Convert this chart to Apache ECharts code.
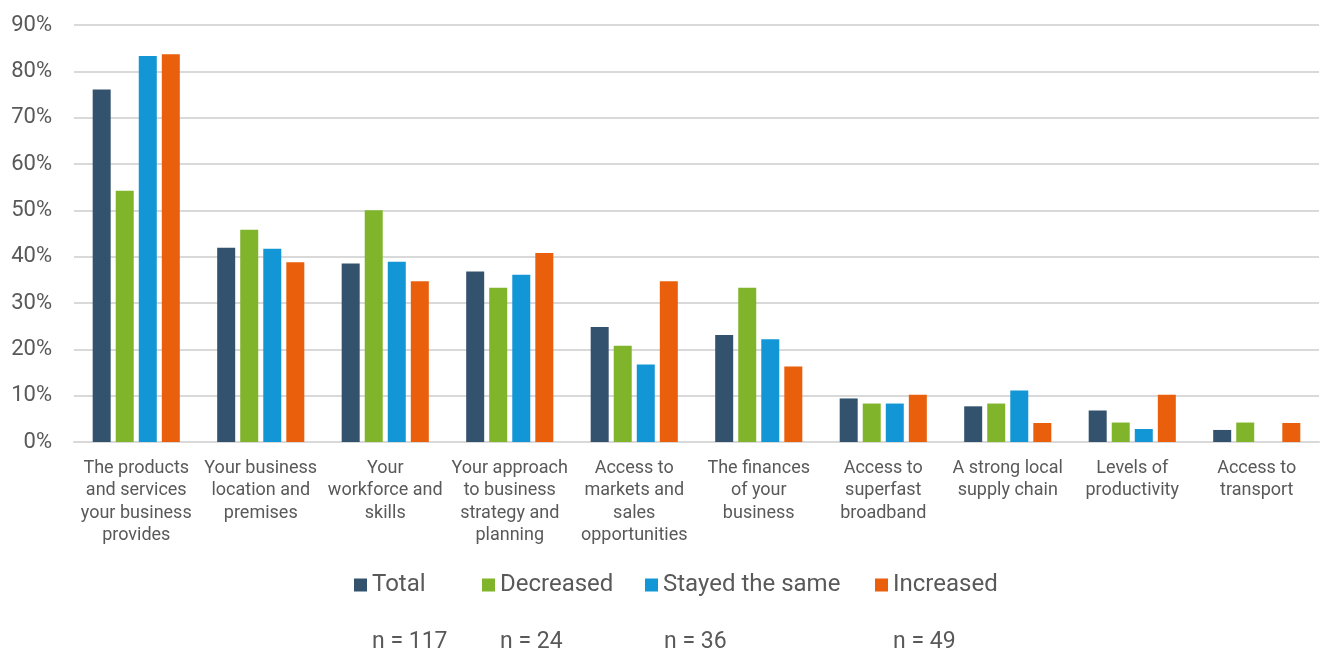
<!DOCTYPE html>
<html>
<head>
<meta charset="utf-8">
<script src="https://cdn.jsdelivr.net/npm/echarts@6/dist/echarts.min.js"></script>
<style>
  html, body { margin: 0; padding: 0; background: #fff; }
  #chart { width: 1324px; height: 653px; }
</style>
</head>
<body>
<div id="chart"></div>
<script>
// Factors named by businesses, share of respondents (%), split by turnover change
const categories = [
  'The products\nand services\nyour business\nprovides',
  'Your business\nlocation and\npremises',
  'Your\nworkforce and\nskills',
  'Your approach\nto business\nstrategy and\nplanning',
  'Access to\nmarkets and\nsales\nopportunities',
  'The finances\nof your\nbusiness',
  'Access to\nsuperfast\nbroadband',
  'A strong local\nsupply chain',
  'Levels of\nproductivity',
  'Access to\ntransport'
];
const total     = [76.1, 41.9, 38.5, 36.8, 24.8, 23.1, 9.4, 7.7, 6.8, 2.6];
const decreased = [54.2, 45.8, 50.0, 33.3, 20.8, 33.3, 8.3, 8.3, 4.2, 4.2];
const stayed    = [83.3, 41.7, 38.9, 36.1, 16.7, 22.2, 8.3, 11.1, 2.8, 0];
const increased = [83.7, 38.8, 34.7, 40.8, 34.7, 16.3, 10.2, 4.1, 10.2, 4.1];
const seriesNames = ['Total', 'Decreased', 'Stayed the same', 'Increased'];
const sampleSizes = ['n = 117', 'n = 24', 'n = 36', 'n = 49'];
const yTicks = { min: 0, max: 90, interval: 10 };

const colors = ['#33526D', '#80B52B', '#1396D6', '#EA5F0C'];
const textColor = '#595959';
const font = 'Roboto, "Liberation Sans", sans-serif';

const seriesData = [total, decreased, stayed, increased];
const legendLeft = [354, 482, 645, 875];
const nLeft = [372, 500, 664, 893];

const chart = echarts.init(document.getElementById('chart'), null, { renderer: 'canvas' });

chart.setOption({
  animation: false,
  color: colors,
  grid: { left: 74, right: 5, top: 25, bottom: 211, containLabel: false },
  xAxis: {
    type: 'category',
    data: categories,
    axisLine: { show: true, lineStyle: { color: '#d9d9d9', width: 2 } },
    axisTick: { show: false },
    axisLabel: {
      interval: 0,
      margin: 15,
      color: textColor,
      fontFamily: font,
      fontSize: 18,
      lineHeight: 22.5,
      align: 'center'
    }
  },
  yAxis: {
    type: 'value',
    min: yTicks.min,
    max: yTicks.max,
    interval: yTicks.interval,
    axisLine: { show: false },
    axisTick: { show: false },
    splitLine: { lineStyle: { color: '#d9d9d9', width: 2 } },
    axisLabel: {
      formatter: '{value}%',
      margin: 22,
      color: textColor,
      fontFamily: font,
      fontSize: 22
    }
  },
  legend: seriesNames.map((name, i) => ({
    data: [name],
    left: legendLeft[i],
    top: 573,
    icon: 'rect',
    itemWidth: 13,
    itemHeight: 13,
    itemGap: 0,
    padding: 0,
    selectedMode: false,
    textStyle: { color: textColor, fontFamily: font, fontSize: 24 }
  })),
  graphic: sampleSizes.map((t, i) => ({
    type: 'text',
    left: nLeft[i],
    top: 631,
    style: { text: t, fill: textColor, font: '23px ' + font }
  })),
  series: seriesNames.map((name, i) => ({
    name: name,
    type: 'bar',
    data: seriesData[i],
    barWidth: 18,
    barGap: '28%',
    itemStyle: { color: colors[i] }
  }))
});
</script>
</body>
</html>
